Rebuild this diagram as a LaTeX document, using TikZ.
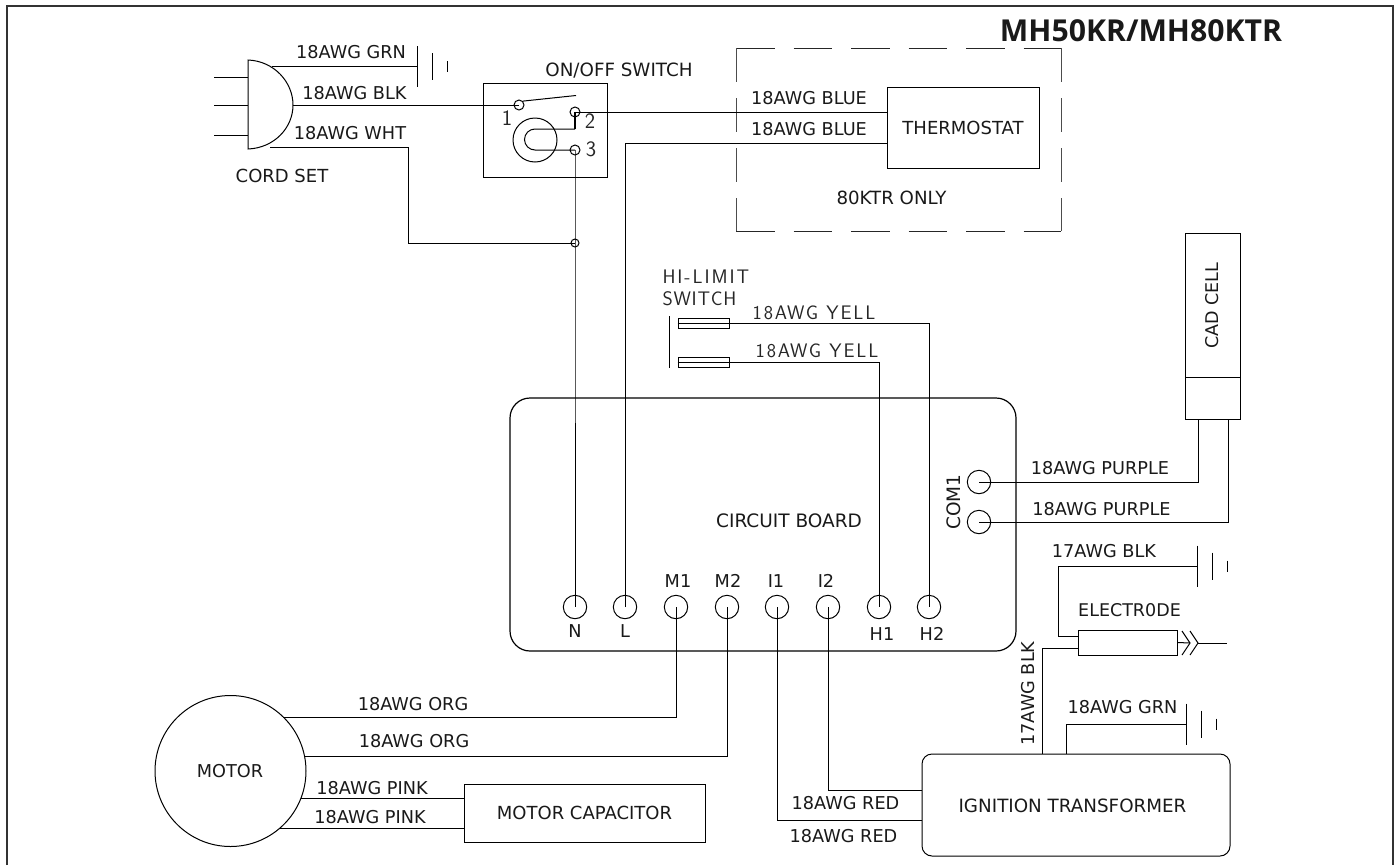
\documentclass[tikz,border=0pt]{standalone}
\usepackage{fontspec}
\setmainfont{DejaVu Sans}
\newfontfamily\titlefont{Open Sans}[BoldFont={Open Sans Bold}]
\newfontfamily\cadfont{Latin Modern Sans}[LetterSpace=10]
\newfontfamily\cadtight{Latin Modern Sans}[LetterSpace=4]
\begin{document}
\begin{tikzpicture}[x=1pt,y=-1pt,line width=1pt,
  lbl/.style={font=\fontsize{#1}{20}\selectfont,inner sep=0pt,text=black!90},
  lbl/.default=17.7,
  cad/.style={font=\fontsize{#1}{20}\cadfont,inner sep=0pt,text=black!85},
  cad/.default=19.6,
  term/.style={draw,circle,minimum size=23.4pt,inner sep=0pt},
  small/.style={draw,circle,minimum size=10pt,inner sep=0pt},
]
\useasboundingbox (0,0) rectangle (1397,865);
% frame
\coordinate (fa) at (7,865); \coordinate (fb) at (7,6); \coordinate (fc) at (1393,6); \coordinate (fd) at (1393,865);
\draw[line width=1.5pt,black!80] (fa) -- (fb) -- (fc) -- (fd);
\node[inner sep=0pt,font=\fontsize{30.2}{32}\titlefont\bfseries,text=black!90] (title) at (1141,31) {MH50KR/MH80KTR};

% plug
\coordinate (pa) at (248,60); \coordinate (pb) at (248,149); \coordinate (ptip) at (293,105);
\draw (pa) .. controls (274,61) and (293,82) .. (ptip) .. controls (293,128) and (274,148) .. (pb) -- cycle;
\foreach \y/\n in {77/a,105/b,135/c}{
  \coordinate (pr\n) at (214,\y); \coordinate (ps\n) at (248,\y);
  \draw (pr\n) -- (ps\n);}
\node[lbl=18] (lcord) at (282,176) {CORD SET};

% grounds
\newcommand{\gnd}[3]{%
  \coordinate (#3) at (#1,#2);
  \coordinate (#3a) at (#1,#2-20.5); \coordinate (#3b) at (#1,#2+20.5);
  \coordinate (#3c) at (#1+15,#2-13.5); \coordinate (#3d) at (#1+15,#2+13.5);
  \coordinate (#3e) at (#1+30,#2-5.5); \coordinate (#3f) at (#1+30,#2+5.5);
  \draw (#3a) -- (#3b) (#3c) -- (#3d) (#3e) -- (#3f);}
\gnd{417}{66.5}{ga}
\gnd{1197}{566}{gb}
\gnd{1186}{724}{gc}

\coordinate (pgrn) at (272,66.5);
\draw (pgrn) -- (ga);
\node[lbl] (lgrn) at (351,52) {18AWG GRN};
\node[lbl] (lblk) at (354.5,93) {18AWG BLK};
\node[lbl] (lwht) at (350,133) {18AWG WHT};

% switch
\node[draw,inner sep=0pt,minimum width=124pt,minimum height=94pt] (sw) at (545,130) {};
\node[lbl=18.3] (lsw) at (619,71) {ON/OFF SWITCH};
\node[small] (s1) at (519,105) {};
\node[small] (s2) at (575,112) {};
\node[small] (s3) at (575,150) {};
\node[draw,circle,minimum size=44pt,inner sep=0pt] (sbig) at (535,140) {};
\coordinate (arm) at (576,95.5);
\draw (s1.north east) -- (arm);
\coordinate (ua) at (575,129); \coordinate (ub) at (535,129);
\draw[line width=1.4pt] (s2.center) -- (ua);
\draw (ua) -- (ub) arc[start angle=270,end angle=90,radius=10.5] -- (s3.center);
\node[cad=22] (n1) at (507,118) {1};
\node[cad=22] (n2) at (590,121) {2};
\node[cad=22] (n3) at (591,149) {3};
\draw (ptip) -- (s1.center);

% thermostat
\node[draw,inner sep=0pt,minimum width=152pt,minimum height=81pt] (th) at (963,127.5) {};
\node[lbl=18] (lth) at (963,128) {THERMOSTAT};
\coordinate (nw) at (736,48); \coordinate (ne) at (1061,48); \coordinate (sw2) at (736,231); \coordinate (se) at (1061,231);
\draw[dash pattern=on 38.5pt off 19pt,black!85] (nw) -- (ne);
\draw[dash pattern=on 38.5pt off 19pt,black!85] (sw2) -- (se);
\draw[dash pattern=on 34pt off 16pt,black!70] (nw) -- (sw2);
\draw[dash pattern=on 34pt off 16pt,black!70] (ne) -- (se);
\node[lbl] (lb1) at (809,98) {18AWG BLUE};
\node[lbl] (lb2) at (809,129) {18AWG BLUE};
\node[lbl=18.2] (l80) at (891.5,198) {80KTR ONLY};

% board
\node[draw,inner sep=0pt,rounded corners=20pt,minimum width=506pt,minimum height=253pt,line width=1.2pt] (board) at (763,524.5) {};
\node[lbl=18.5] (lboard) at (789,521) {CIRCUIT BOARD};
\foreach \n/\x in {N/575,L/625,Ma/676,Mb/727,Ia/777,Ib/828,Ha/879,Hb/929}
  \node[term] (t\n) at (\x,607) {};
\node[lbl] (tlN) at (575,631) {N};
\node[lbl] (tlL) at (625,631) {L};
\node[lbl] (tlMa) at (678,581) {M1};
\node[lbl] (tlMb) at (728,581) {M2};
\node[lbl] (tlIa) at (776,581) {I1};
\node[lbl] (tlIb) at (826,581) {I2};
\node[lbl] (tlHa) at (882,634) {H1};
\node[lbl] (tlHb) at (932,634) {H2};
\node[term] (ca) at (979,482) {};
\node[term] (cb) at (979,522) {};
\node[lbl=18.5,rotate=90] (lcom) at (954,502) {COM1};

% white and switch wires
\coordinate (wa) at (270,147); \coordinate (wb) at (408,147); \coordinate (wc) at (408,243);
\node[draw,circle,minimum size=8pt,inner sep=0pt] (junc) at (575,243) {};
\draw (wa) -- (wb) -- (wc) -- (junc.center);
\draw (s3.center) -- (junc.center) -- (tN.center);
\draw (s2.center) -- (s2 -| th.west);
\coordinate (lc) at (625,143);
\draw (tL.center) -- (lc) -- (lc -| th.west);

% hi-limit
\node[cad,anchor=west] (lhi) at (662,277) {HI-LIMIT};
\node[inner sep=0pt,text=black!85,font=\fontsize{19.6}{20}\cadtight,anchor=west] (lsw2) at (662,299) {SWITCH};
\coordinate (hbara) at (669,316); \coordinate (hbarb) at (669,368);
\draw (hbara) -- (hbarb);
\node[draw,inner sep=0pt,minimum width=51pt,minimum height=10pt] (ha) at (703.5,323) {};
\node[draw,inner sep=0pt,minimum width=51pt,minimum height=10pt] (hb) at (703.5,362) {};
\draw (ha.west) -- (ha.east);
\draw (hb.west) -- (hb.east);
\coordinate (hac) at (929,323); \coordinate (hbc) at (879,362);
\draw (ha.east) -- (hac) -- (tHb.center);
\draw (hb.east) -- (hbc) -- (tHa.center);
\node[cad] (ly1) at (814,313) {18AWG YELL};
\node[cad] (ly2) at (817,351) {18AWG YELL};

% cad cell
\node[draw,inner sep=0pt,minimum width=55pt,minimum height=186pt] (cell) at (1212.5,326) {};
\coordinate (cella) at (1185,377); \coordinate (cellb) at (1240,377);
\draw (cella) -- (cellb);
\node[lbl=17.5,rotate=90] (lcell) at (1212.5,305.5) {CAD CELL};
\coordinate (pua) at (1198,419); \coordinate (pub) at (1228,419);
\draw (ca.center) -| (pua);
\draw (cb.center) -| (pub);
\node[lbl] (lp1) at (1100,468) {18AWG PURPLE};
\node[lbl] (lp2) at (1101.5,509) {18AWG PURPLE};

% electrode
\node[draw,inner sep=0pt,minimum width=99pt,minimum height=25pt] (el) at (1127.5,642.5) {};
\node[lbl=17.5] (lel) at (1129.5,610) {ELECTR0DE};
\coordinate (ela) at (1058,636); \coordinate (elb) at (1078,636);
\draw (gb) -- (ela |- gb) -- (ela) -- (elb);
\node[lbl] (l17) at (1104,551) {17AWG BLK};
\coordinate (cha) at (1182,631); \coordinate (chb) at (1190,643); \coordinate (chc) at (1182,655);
\coordinate (cda) at (1190,631); \coordinate (cdb) at (1198,643); \coordinate (cdc) at (1190,655);
\coordinate (eend) at (1227,643);
\draw (el.east) -- (chb);
\draw (cha) -- (chb) -- (chc);
\draw (cda) -- (cdb) -- (cdc);
\draw (cdb) -- (eend);

% transformer
\node[draw,inner sep=0pt,rounded corners=10pt,minimum width=308pt,minimum height=102pt] (tr) at (1076,805) {};
\node[lbl=18.3] (ltr) at (1072.5,806) {IGNITION TRANSFORMER};
\coordinate (ka) at (1078,648); \coordinate (kb) at (1042,648); \coordinate (kc) at (1042,754);
\draw (ka) -- (kb) -- (kc);
\node[lbl,rotate=90] (l17b) at (1028,693.5) {17AWG BLK};
\coordinate (ga1) at (1066,724); \coordinate (ga2) at (1066,754);
\draw (gc) -- (ga1) -- (ga2);
\node[lbl] (lg2) at (1122.5,707) {18AWG GRN};
\coordinate (ra) at (828,790); \coordinate (rb) at (777,820);
\draw (tIb.center) -- (ra) -- (ra -| tr.west);
\draw (tIa.center) -- (rb) -- (rb -| tr.west);
\node[lbl] (lr1) at (845.5,803) {18AWG RED};
\node[lbl] (lr2) at (843.5,836) {18AWG RED};

% motor
\node[draw,circle,minimum size=151pt,inner sep=0pt] (motor) at (230.5,771) {};
\node[lbl] (lmot) at (230,771) {MOTOR};
\coordinate (ma) at (283,717); \coordinate (mb) at (304,756);
\draw (tMa.center) |- (ma);
\draw (tMb.center) |- (mb);
\node[lbl] (lo1) at (413,704) {18AWG ORG};
\node[lbl] (lo2) at (414,741) {18AWG ORG};
\node[draw,inner sep=0pt,minimum width=241pt,minimum height=58pt] (cap) at (584.5,813) {};
\node[lbl=18] (lcap) at (584.5,813) {MOTOR CAPACITOR};
\coordinate (pka) at (301,798); \coordinate (pkb) at (279,828);
\draw (pka) -- (pka -| cap.west);
\draw (pkb) -- (pkb -| cap.west);
\node[lbl] (lk1) at (372,788) {18AWG PINK};
\node[lbl] (lk2) at (370,817) {18AWG PINK};
\end{tikzpicture}
\end{document}
